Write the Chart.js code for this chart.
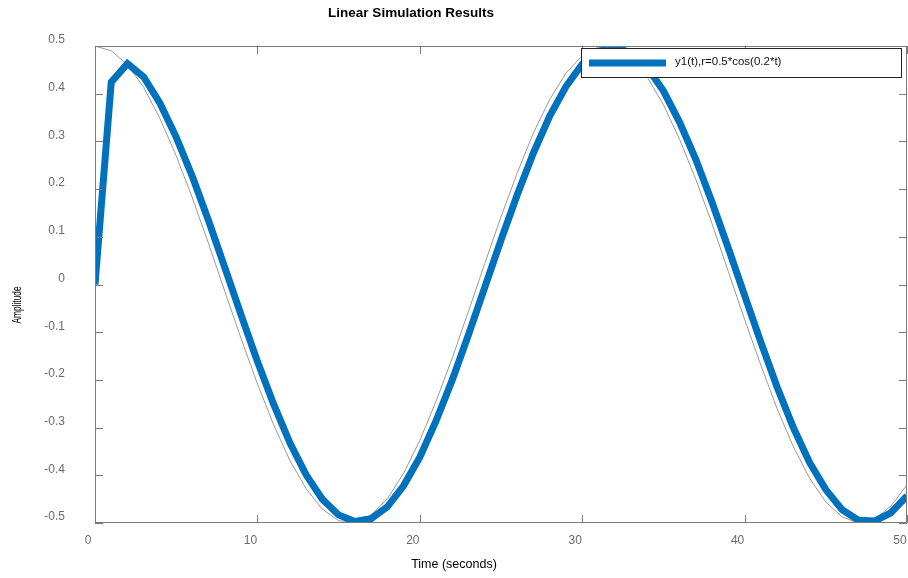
<!DOCTYPE html>
<html>
<head>
<meta charset="utf-8">
<script src="https://cdn.jsdelivr.net/npm/chart.js@4/dist/chart.umd.min.js"></script>
<style>
  html, body { margin: 0; padding: 0; background: #fff; }
  #wrap { width: 908px; height: 578px; }
</style>
</head>
<body>
<div id="wrap"><canvas id="sim" width="908" height="578"></canvas></div>
<script>
// time samples (s)
const timeValues = [0,1,2,3,4,5,6,7,8,9,10,11,12,13,14,15,16,17,18,19,20,21,22,23,24,25,
  26,27,28,29,30,31,32,33,34,35,36,37,38,39,40,41,42,43,44,45,46,47,48,49,50];

// input r (thin grey)
const inputValues = [0.5,0.49,0.461,0.413,0.348,0.27,0.181,0.085,-0.015,-0.114,-0.208,
  -0.294,-0.369,-0.428,-0.471,-0.495,-0.499,-0.483,-0.449,-0.396,-0.327,-0.245,-0.154,
  -0.056,0.044,0.142,0.234,0.318,0.388,0.443,0.48,0.498,0.497,0.475,0.435,0.377,0.304,
  0.22,0.127,0.027,-0.073,-0.169,-0.26,-0.34,-0.406,-0.456,-0.487,-0.5,-0.492,-0.465,-0.42];

// response y1 (thick blue)
const outputValues = [0,0.424,0.463,0.435,0.38,0.309,0.226,0.133,0.035,-0.064,-0.161,
  -0.251,-0.332,-0.399,-0.45,-0.483,-0.497,-0.491,-0.466,-0.422,-0.362,-0.286,-0.2,
  -0.105,-0.006,0.093,0.188,0.276,0.353,0.415,0.462,0.489,0.497,0.486,0.455,0.406,0.34,
  0.262,0.172,0.076,-0.023,-0.121,-0.215,-0.3,-0.373,-0.43,-0.472,-0.494,-0.496,-0.479,-0.443];

const xTicks = [0, 10, 20, 30, 40, 50];
const yTicks = [-0.5, -0.4, -0.3, -0.2, -0.1, 0, 0.1, 0.2, 0.3, 0.4, 0.5];

const titleText = 'Linear Simulation Results';
const xTitle = 'Time (seconds)';
const yTitle = 'Amplitude';
const legendText = 'y1(t),r=0.5*cos(0.2*t)';

const AXIS_GREY = '#7a7a7a';
const LABEL_GREY = '#6b6b6b';
const BLUE = '#0072BD';
const FONT = '"Liberation Sans", Arial, sans-serif';

// box, inner ticks, titles and legend
const decorPlugin = {
    id: 'decor',
    afterDatasetsDraw(chart) {
        const ctx = chart.ctx;
        const a = chart.chartArea;
        const xs = chart.scales.x, ys = chart.scales.y;
        ctx.save();
        ctx.strokeStyle = AXIS_GREY;
        ctx.lineWidth = 1;
        ctx.beginPath();
        ctx.rect(a.left + 0.5, a.top + 0.5, a.right - a.left - 1, a.bottom - a.top - 1);
        ctx.stroke();
        const tl = 8;
        ctx.beginPath();
        xTicks.forEach(v => {
            const px = Math.round(xs.getPixelForValue(v)) + 0.5;
            ctx.moveTo(px, a.bottom); ctx.lineTo(px, a.bottom - tl);
            ctx.moveTo(px, a.top); ctx.lineTo(px, a.top + tl);
        });
        yTicks.forEach(v => {
            const py = Math.round(ys.getPixelForValue(v)) + 0.5;
            ctx.moveTo(a.left, py); ctx.lineTo(a.left + tl, py);
            ctx.moveTo(a.right, py); ctx.lineTo(a.right - tl, py);
        });
        ctx.stroke();

        // legend
        const lx = 581, ly = 48, lw = 320, lh = 29;
        ctx.fillStyle = '#fff';
        ctx.fillRect(lx, ly, lw, lh);
        ctx.strokeStyle = '#222';
        ctx.strokeRect(lx + 0.5, ly + 0.5, lw, lh);
        ctx.strokeStyle = BLUE;
        ctx.lineWidth = 7;
        ctx.beginPath();
        ctx.moveTo(589, 63); ctx.lineTo(666, 63);
        ctx.stroke();
        ctx.fillStyle = '#111';
        ctx.font = '11.5px ' + FONT;
        ctx.textBaseline = 'middle';
        ctx.textAlign = 'left';
        ctx.fillText(legendText, 675, 62);

        // titles
        ctx.fillStyle = '#000';
        ctx.textAlign = 'center';
        ctx.font = 'bold 13.5px ' + FONT;
        ctx.fillText(titleText, 411, 13);
        ctx.font = '12.5px ' + FONT;
        ctx.fillText(xTitle, 454, 565);
        ctx.translate(17, 305);
        ctx.rotate(-Math.PI / 2);
        ctx.scale(0.62, 1);
        ctx.font = '13.5px ' + FONT;
        ctx.fillText(yTitle, 0, 0);
        ctx.restore();
    }
};

new Chart(document.getElementById('sim'), {
    type: 'line',
    data: {
        labels: timeValues,
        datasets: [{
            label: legendText,
            data: outputValues,
            borderColor: BLUE,
            borderWidth: 7,
            pointRadius: 0,
            tension: 0,
            fill: false,
            order: 0
        }, {
            label: 'r',
            data: inputValues,
            borderColor: '#9a9a9a',
            borderWidth: 1,
            pointRadius: 0,
            tension: 0,
            fill: false,
            order: 1
        }]
    },
    options: {
        responsive: false,
        animation: false,
        devicePixelRatio: 1,
        layout: { padding: { top: 46, right: 1, left: 0, bottom: 0 } },
        plugins: {
            legend: { display: false },
            tooltip: { enabled: false },
            title: { display: false }
        },
        scales: {
            x: {
                type: 'linear',
                min: 0,
                max: 50,
                afterFit: s => { s.height = 55; s.paddingLeft = 0; s.paddingRight = 0; },
                afterBuildTicks: s => { s.ticks = xTicks.map(v => ({ value: v })); },
                grid: { display: false, drawTicks: false },
                border: { display: false },
                ticks: {
                    color: LABEL_GREY,
                    font: { family: FONT, size: 12 },
                    padding: 10,
                    labelOffset: -7,
                    maxRotation: 0
                }
            },
            y: {
                min: -0.5,
                max: 0.5,
                afterFit: s => { s.width = 95; s.paddingTop = 0; s.paddingBottom = 0; },
                afterBuildTicks: s => { s.ticks = yTicks.map(v => ({ value: v })); },
                grid: { display: false, drawTicks: false },
                border: { display: false },
                ticks: {
                    color: LABEL_GREY,
                    font: { family: FONT, size: 12 },
                    padding: 30,
                    labelOffset: -6,
                    callback: v => String(Math.round(v * 10) / 10)
                }
            }
        }
    },
    plugins: [decorPlugin]
});
</script>
</body>
</html>
